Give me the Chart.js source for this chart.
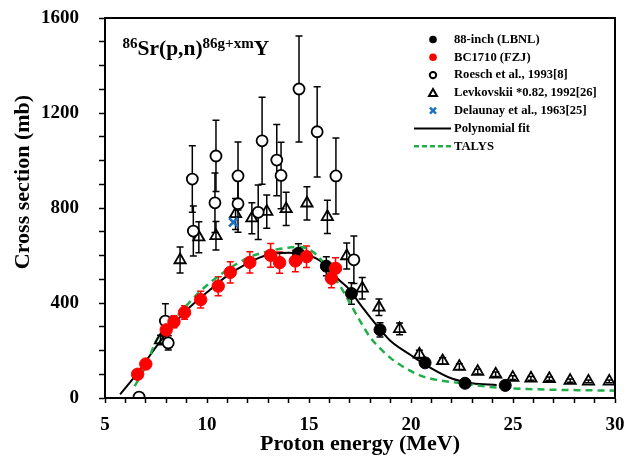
<!DOCTYPE html>
<html>
<head>
<meta charset="utf-8">
<script src="https://cdn.jsdelivr.net/npm/chart.js@4.4.1/dist/chart.umd.min.js"></script>
<style>
  body { margin: 0; background: #fff; }
</style>
</head>
<body>
<canvas id="c" width="631" height="460"></canvas>
<script>
// 88-inch (LBNL)
const lbnlE   = [14.48, 15.85, 17.08, 18.48, 20.69, 22.65, 24.62];
const lbnlCS  = [609, 555, 440, 287, 148, 62, 53];
const lbnlErr = [40, 40, 45, 30, 18, 10, 8];

// BC1710 (FZJ)
const fzjE   = [6.6, 7.0, 8.0, 8.38, 8.9, 9.69, 10.55, 11.14, 12.1, 13.12, 13.56, 14.33, 14.88, 16.1, 16.3];
const fzjCS  = [100, 143, 287, 321, 360, 414, 471, 529, 571, 601, 570, 577, 595, 504, 546];
const fzjErr = [15, 15, 25, 25, 28, 35, 40, 45, 45, 50, 45, 45, 45, 40, 45];

// Roesch et al., 1993
const roeschE   = [6.67, 7.96, 8.1, 9.28, 9.33, 10.39, 10.44, 11.52, 11.52, 12.51, 12.7, 13.42, 13.63, 14.51, 15.4, 16.32, 17.2];
const roeschCS  = [4, 324, 232, 922, 703, 822, 1019, 935, 818, 782, 1083, 1002, 937, 1301, 1121, 935, 582];
const roeschErr = [2, 73, 30, 140, 105, 125, 150, 143, 120, 115, 183, 150, 140, 223, 190, 160, 100];

// Levkovskii *0.82, 1992
const levE   = [7.72, 8.68, 9.6, 10.44, 11.4, 12.2, 12.93, 13.88, 14.9, 15.9, 16.85, 17.61, 18.43, 19.44, 20.41, 21.55, 22.37, 23.27, 24.15, 24.99, 25.88, 26.78, 27.8, 28.7, 29.72];
const levCS  = [244, 581, 677, 683, 775, 757, 785, 796, 820, 763, 598, 462, 382, 291, 184, 156, 132, 111, 100, 86, 83, 81, 73, 70, 70];
const levErr = [20, 55, 65, 60, 65, 65, 70, 70, 70, 70, 55, 45, 35, 25, 17, 14, 12, 10, 9, 8, 8, 7, 7, 6, 6];

// Delaunay et al., 1963
const delE  = [11.29];
const delCS = [740];

// Polynomial fit
const fitE  = [5.74, 6.5, 7, 8, 9, 10, 11, 12, 13, 14, 14.5, 15, 15.5, 16, 16.5, 17, 17.5, 18, 18.5, 19, 20, 21, 22, 23, 24.2];
const fitCS = [15, 95, 155, 272, 370, 445, 515, 568, 603, 612, 608, 600, 580, 540, 495, 455, 395, 340, 287, 240, 180, 125, 82, 62, 55];

// TALYS
const talysE  = [6.45, 6.63, 7, 7.53, 8, 9, 10, 11, 12, 13, 14, 14.5, 15, 15.5, 16, 16.5, 17, 17.5, 18, 18.5, 19, 19.5, 20, 20.6, 21.5, 22.5, 23.5, 24.7, 26, 27.5, 30];
const talysCS = [50, 76, 135, 244, 290, 390, 475, 540, 590, 618, 633, 637, 625, 592, 530, 475, 400, 325, 255, 208, 168, 138, 113, 90, 73, 62, 50, 41, 37, 34, 31];

const xTicksMajor = [5, 10, 15, 20, 25, 30];
const yTicksMajor = [0, 400, 800, 1200, 1600];

const zip = (xs, ys) => xs.map((x, i) => ({ x, y: ys[i] }));
const SERIF = '"Liberation Serif", "Times New Roman", serif';
const GREEN = '#1fae4a';
const BLUE = '#1f70c1';

// vertical error bars under the markers
const errorBars = {
    id: 'errorBars',
    beforeDatasetsDraw(chart) {
        const ctx = chart.ctx;
        const ys = chart.scales.y;
        chart.data.datasets.forEach((ds, i) => {
            if (!ds.err) return;
            const meta = chart.getDatasetMeta(i);
            ctx.save();
            ctx.strokeStyle = ds.errColor || '#000';
            ctx.lineWidth = 1.5;
            meta.data.forEach((pt, j) => {
                const v = ds.data[j].y, e = ds.err[j];
                const top = ys.getPixelForValue(v + e);
                const bot = ys.getPixelForValue(Math.max(0, v - e));
                ctx.beginPath();
                ctx.moveTo(pt.x, top); ctx.lineTo(pt.x, bot);
                ctx.moveTo(pt.x - 3.5, top); ctx.lineTo(pt.x + 3.5, top);
                ctx.moveTo(pt.x - 3.5, bot); ctx.lineTo(pt.x + 3.5, bot);
                ctx.stroke();
            });
            ctx.restore();
        });
    }
};

// frame, y title, reaction label, legend
const extras = {
    id: 'extras',
    afterDraw(chart) {
        const ctx = chart.ctx;
        const a = chart.chartArea;
        ctx.save();
        ctx.strokeStyle = '#000';
        ctx.lineWidth = 2;
        ctx.strokeRect(a.left, a.top, a.right - a.left, a.bottom - a.top);

        // y axis title
        ctx.save();
        ctx.translate(23, 182);
        ctx.rotate(-Math.PI / 2);
        ctx.font = 'bold 22px ' + SERIF;
        ctx.fillStyle = '#000';
        ctx.textAlign = 'center';
        ctx.textBaseline = 'middle';
        ctx.fillText('Cross section (mb)', 0, 0);
        ctx.restore();

        // reaction label with superscripts
        const parts = [['86', true], ['Sr(p,n)', false], ['86g+xm', true], ['Y', false]];
        let x = 122.5;
        ctx.fillStyle = '#000';
        ctx.textAlign = 'left';
        ctx.textBaseline = 'alphabetic';
        parts.forEach(([t, sup]) => {
            ctx.font = 'bold ' + (sup ? 15 : 21.5) + 'px ' + SERIF;
            ctx.fillText(t, x, sup ? 47.5 : 55);
            x += ctx.measureText(t).width;
        });

        const items = [
            { t: '88-inch (LBNL)', k: 'dot', c: '#000' },
            { t: 'BC1710 (FZJ)', k: 'dot', c: '#ff0000' },
            { t: 'Roesch et al., 1993[8]', k: 'ring', c: '#000' },
            { t: 'Levkovskii *0.82, 1992[26]', k: 'tri', c: '#000' },
            { t: 'Delaunay et al., 1963[25]', k: 'x', c: BLUE },
            { t: 'Polynomial fit', k: 'line', c: '#000' },
            { t: 'TALYS', k: 'dash', c: GREEN }
        ];
        const sx = 433, tx = 454;
        ctx.font = 'bold 12.6px ' + SERIF;
        ctx.textBaseline = 'middle';
        items.forEach((it, i) => {
            const y = 39.5 + i * 17.8;
            ctx.fillStyle = it.c; ctx.strokeStyle = it.c;
            ctx.setLineDash([]);
            ctx.beginPath();
            if (it.k === 'dot') { ctx.arc(sx, y, 3.8, 0, 2 * Math.PI); ctx.fill(); }
            else if (it.k === 'ring') { ctx.lineWidth = 2; ctx.arc(sx, y, 3.2, 0, 2 * Math.PI); ctx.stroke(); }
            else if (it.k === 'tri') { ctx.lineWidth = 2; ctx.moveTo(sx, y - 4); ctx.lineTo(sx + 4, y + 3); ctx.lineTo(sx - 4, y + 3); ctx.closePath(); ctx.stroke(); }
            else if (it.k === 'x') { ctx.lineWidth = 2.5; ctx.moveTo(sx - 3, y - 3); ctx.lineTo(sx + 3, y + 3); ctx.moveTo(sx + 3, y - 3); ctx.lineTo(sx - 3, y + 3); ctx.stroke(); }
            else if (it.k === 'line') { ctx.lineWidth = 2; ctx.moveTo(414, y); ctx.lineTo(451, y); ctx.stroke(); }
            else { ctx.lineWidth = 2.5; ctx.setLineDash([5, 3]); ctx.moveTo(414, y); ctx.lineTo(451, y); ctx.stroke(); }
            ctx.setLineDash([]);
            ctx.fillStyle = '#000';
            ctx.fillText(it.t, tx, y);
        });
        ctx.restore();
    }
};

new Chart(document.getElementById('c').getContext('2d'), {
    type: 'scatter',
    data: {
        datasets: [
            { label: 'Polynomial fit', data: zip(fitE, fitCS), showLine: true, pointRadius: 0,
              borderColor: '#000', borderWidth: 2, cubicInterpolationMode: 'monotone', order: 6 },
            { label: 'TALYS', data: zip(talysE, talysCS), showLine: true, pointRadius: 0,
              borderColor: GREEN, borderWidth: 2.5, borderDash: [7, 5], cubicInterpolationMode: 'monotone', order: 5 },
            { label: 'Levkovskii *0.82, 1992[26]', data: zip(levE, levCS), err: levErr,
              pointStyle: 'triangle', pointRadius: 6.5, borderColor: '#000', borderWidth: 1.8,
              backgroundColor: 'rgba(0,0,0,0)', order: 4 },
            { label: 'Roesch et al., 1993[8]', data: zip(roeschE, roeschCS), err: roeschErr,
              pointStyle: 'circle', pointRadius: 5.5, borderColor: '#000', borderWidth: 1.8,
              backgroundColor: '#fff', order: 3 },
            { label: '88-inch (LBNL)', data: zip(lbnlE, lbnlCS), err: lbnlErr,
              pointStyle: 'circle', pointRadius: 6, borderColor: '#000', backgroundColor: '#000', order: 2 },
            { label: 'BC1710 (FZJ)', data: zip(fzjE, fzjCS), err: fzjErr, errColor: '#ff0000',
              pointStyle: 'circle', pointRadius: 6.2, borderColor: '#ff0000', backgroundColor: '#ff0000', order: 1 },
            { label: 'Delaunay et al., 1963[25]', data: zip(delE, delCS),
              pointStyle: 'crossRot', pointRadius: 6, borderColor: BLUE, borderWidth: 2.5, order: 0 }
        ]
    },
    options: {
        animation: false,
        responsive: false,
        layout: { padding: { top: 18, right: 16, left: 0, bottom: 0 } },
        plugins: { legend: { display: false }, tooltip: { enabled: false } },
        scales: {
            x: {
                type: 'linear', min: 5, max: 30,
                afterFit: (s) => { s.height = 62; s.paddingLeft = 0; s.paddingRight = 0; },
                ticks: {
                    stepSize: 1, autoSkip: false, maxRotation: 0, color: '#000', padding: 11,
                    font: { family: SERIF, size: 19, weight: 'bold' },
                    callback: (v) => xTicksMajor.includes(v) ? String(v) : ''
                },
                grid: { drawOnChartArea: false, tickLength: 5, tickColor: '#000', tickWidth: 1.5 },
                border: { color: '#000', width: 2 },
                title: { display: true, text: 'Proton energy (MeV)', color: '#000', padding: { top: 0, bottom: 2 },
                         font: { family: SERIF, size: 22, weight: 'bold' } }
            },
            y: {
                type: 'linear', min: 0, max: 1600,
                afterFit: (s) => { s.width = 105; s.paddingTop = 0; s.paddingBottom = 0; },
                ticks: {
                    stepSize: 100, autoSkip: false, color: '#000', padding: 20,
                    font: { family: SERIF, size: 19, weight: 'bold' },
                    callback: (v) => yTicksMajor.includes(v) ? String(v) : ''
                },
                grid: { drawOnChartArea: false, tickLength: 6, tickColor: '#000', tickWidth: 1.5 },
                border: { color: '#000', width: 2 }
            }
        }
    },
    plugins: [errorBars, extras]
});
</script>
</body>
</html>
